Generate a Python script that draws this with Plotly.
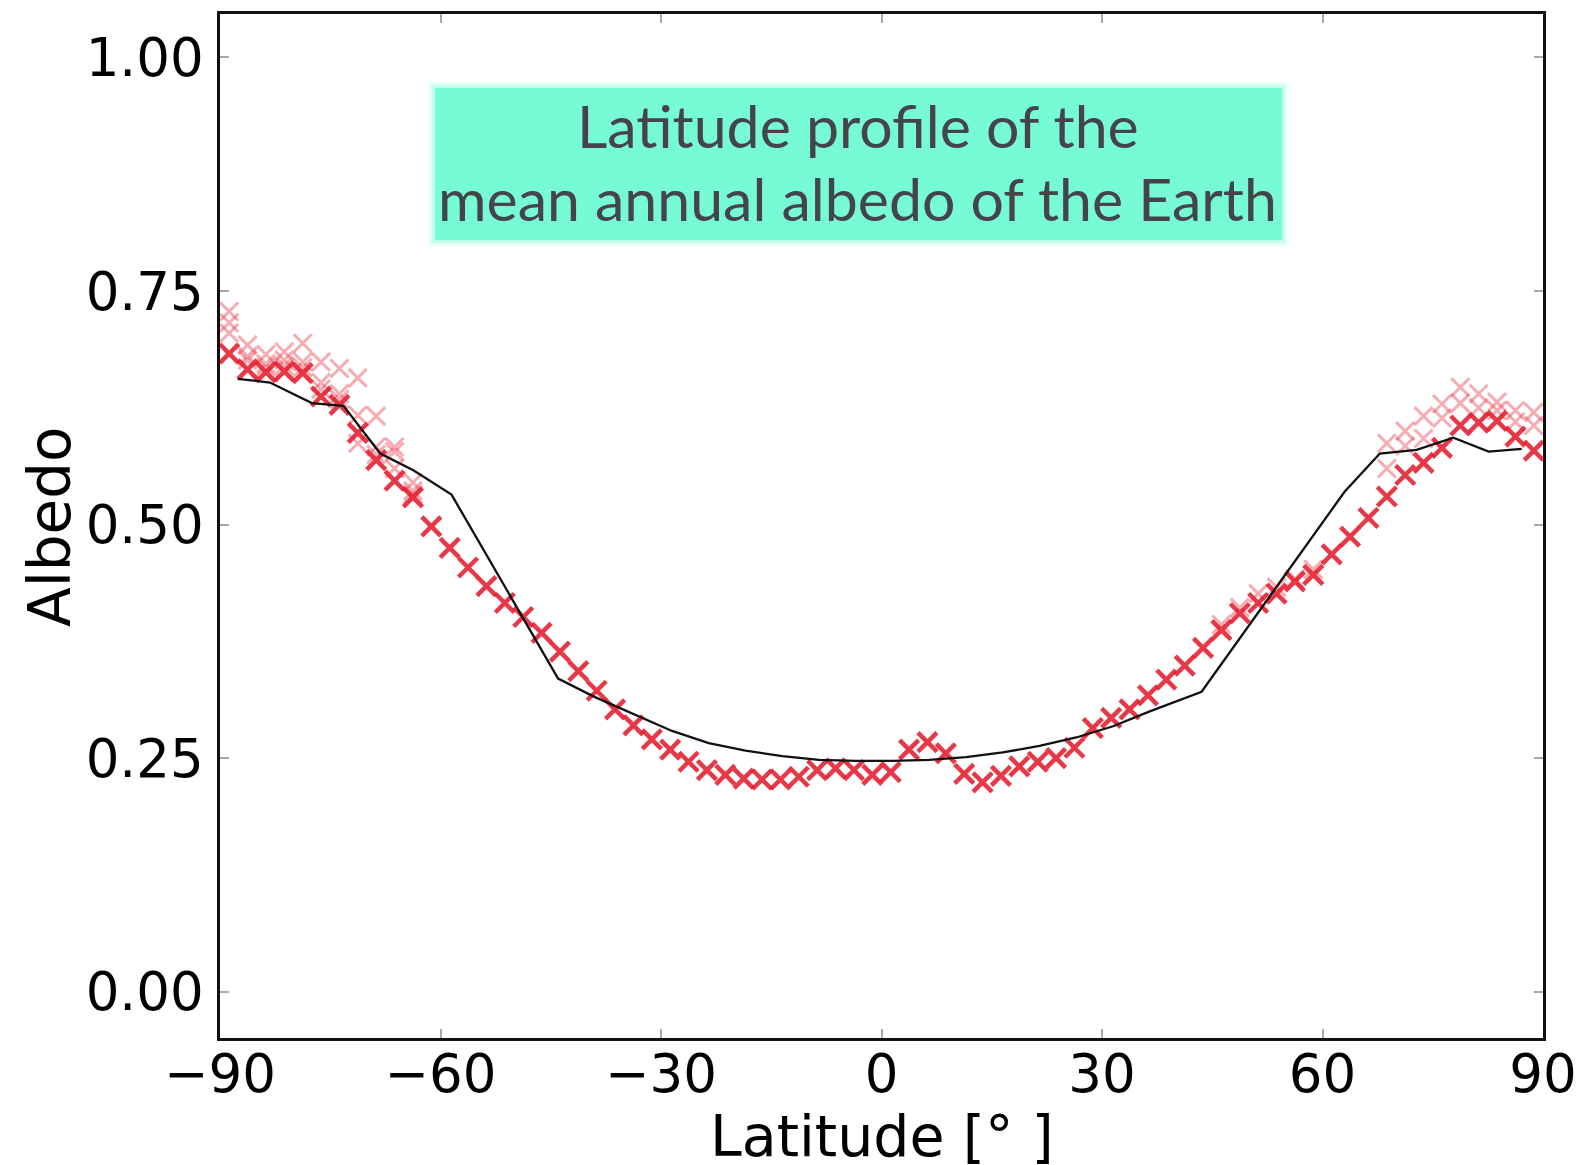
import plotly.graph_objects as go

# Latitude bins (degrees) of the observed zonal-mean albedo
lat = [-88.75, -86.25, -83.75, -81.25, -78.75, -76.25, -73.75, -71.25, -68.75, -66.25,
       -63.75, -61.25, -58.75, -56.25, -53.75, -51.25, -48.75, -46.25, -43.75, -41.25,
       -38.75, -36.25, -33.75, -31.25, -28.75, -26.25, -23.75, -21.25, -18.75, -16.25,
       -13.75, -11.25, -8.75, -6.25, -3.75, -1.25,
       1.25, 3.75, 6.25, 8.75, 11.25, 13.75, 16.25, 18.75, 21.25, 23.75,
       26.25, 28.75, 31.25, 33.75, 36.25, 38.75, 41.25, 43.75, 46.25, 48.75,
       51.25, 53.75, 56.25, 58.75, 61.25, 63.75, 66.25, 68.75, 71.25, 73.75,
       76.25, 78.75, 81.25, 83.75, 86.25, 88.75]

albedo_obs = [0.683, 0.666, 0.663, 0.664, 0.662, 0.637, 0.628, 0.598, 0.569, 0.547,
              0.529, 0.498, 0.475, 0.454, 0.434, 0.416, 0.401, 0.384, 0.364, 0.343,
              0.322, 0.302, 0.285, 0.270, 0.259, 0.246, 0.237, 0.232, 0.228, 0.227,
              0.227, 0.230, 0.237, 0.239, 0.237, 0.232,
              0.235, 0.259, 0.267, 0.255, 0.233, 0.224, 0.231, 0.241, 0.246, 0.250,
              0.261, 0.282, 0.293, 0.302, 0.317, 0.334, 0.349, 0.368, 0.387, 0.405,
              0.416, 0.426, 0.439, 0.446, 0.468, 0.487, 0.507, 0.530, 0.553, 0.566,
              0.582, 0.606, 0.609, 0.611, 0.594, 0.579]

# Additional yearly samples where the records spread apart
lat_south_extra = [-88.75, -86.25, -83.75, -81.25, -78.75, -76.25, -73.75, -71.25, -68.75, -66.25, -63.75]
alb_south_b = [0.728, 0.692, 0.682, 0.685, 0.694, 0.674, 0.667, 0.657, 0.616, 0.583, 0.545]
alb_south_c = [0.716, 0.680, 0.672, 0.676, 0.674, 0.652, 0.640, 0.617, 0.583, 0.578, 0.536]
alb_south_d = [0.705, 0.676, 0.668, 0.670, 0.668, 0.645, 0.634, 0.587, 0.575, 0.560, 0.532]

lat_north_mid = [46.25, 48.75, 51.25, 53.75, 56.25, 58.75]
alb_north_mid = [0.393, 0.411, 0.426, 0.433, 0.442, 0.452]

lat_north_extra = [68.75, 71.25, 73.75, 76.25, 78.75, 81.25, 83.75, 86.25, 88.75]
alb_north_b = [0.587, 0.600, 0.616, 0.629, 0.647, 0.640, 0.631, 0.622, 0.620]
alb_north_c = [0.560, 0.584, 0.592, 0.614, 0.630, 0.625, 0.622, 0.610, 0.606]

# Energy-balance model profile
model_lat = [-87.6, -83.2, -77.5, -73.2, -68.2, -63.7, -58.5, -44.0, -39.2, -34.0,
             -28.5, -23.5, -18.5, -13.5, -8.5, -3.5, 1.5, 6.5, 11.5, 16.5,
             21.5, 26.5, 31.5, 36.5, 43.55, 63.0, 67.8, 72.8, 77.8, 82.6, 87.1]
model_alb = [0.656, 0.652, 0.630, 0.627, 0.576, 0.558, 0.532, 0.335, 0.316, 0.298,
             0.279, 0.266, 0.258, 0.252, 0.248, 0.247, 0.247, 0.248, 0.251, 0.256,
             0.263, 0.272, 0.284, 0.300, 0.321, 0.535, 0.576, 0.580, 0.593, 0.578, 0.581]

x_ticks = [-90, -60, -30, 0, 30, 60, 90]
x_tick_text = ["\u221290", "\u221260", "\u221230", "0", "30", "60", "90"]
y_ticks = [0.0, 0.25, 0.5, 0.75, 1.0]
y_tick_text = ["0.00", "0.25", "0.50", "0.75", "1.00"]

LIGHT = "rgba(236, 70, 85, 0.45)"
DARK = "rgba(228, 28, 45, 0.88)"


def cross_trace(xs, ys, color, width, size):
    return go.Scatter(
        x=xs, y=ys, mode="markers", showlegend=False, hoverinfo="skip",
        marker=dict(symbol="x-thin", size=size, line=dict(width=width, color=color)),
    )


fig = go.Figure()
fig.add_trace(cross_trace(lat_south_extra, alb_south_b, LIGHT, 3, 18))
fig.add_trace(cross_trace(lat_south_extra, alb_south_c, LIGHT, 3, 18))
fig.add_trace(cross_trace(lat_south_extra, alb_south_d, LIGHT, 3, 18))
fig.add_trace(cross_trace(lat_north_mid, alb_north_mid, LIGHT, 3, 18))
fig.add_trace(cross_trace(lat_north_extra, alb_north_b, LIGHT, 3, 18))
fig.add_trace(cross_trace(lat_north_extra, alb_north_c, LIGHT, 3, 18))
fig.add_trace(cross_trace(lat, albedo_obs, DARK, 4.5, 19))
fig.add_trace(go.Scatter(x=model_lat, y=model_alb, mode="lines", showlegend=False,
                         hoverinfo="skip", line=dict(color="#111111", width=2.3)))

tick_font = dict(family="DejaVu Sans", size=53, color="#000000")
axis_common = dict(
    ticks="inside", ticklen=9, tickwidth=2, tickcolor="#a8a8a8",
    showline=True, linecolor="#111111", linewidth=2.5, mirror="allticks",
    showgrid=False, zeroline=False, tickfont=tick_font, automargin=False,
)
fig.update_xaxes(range=[-90, 90], tickvals=x_ticks, ticktext=x_tick_text,
                 ticklabelstandoff=-12, **axis_common)
fig.update_yaxes(range=[-0.0497, 1.0465], tickvals=y_ticks, ticktext=y_tick_text,
                 ticklabelstandoff=3, **axis_common)

# Title box with a soft glowing edge
box = dict(x0=0.1625, x1=0.8027, y0=0.7793, y1=0.9277)
for pad, alpha in [(0.0065, 0.12), (0.0035, 0.35), (0.0, 1.0)]:
    fig.add_shape(type="rect", xref="paper", yref="paper",
                  x0=box["x0"] - pad * 0.77, x1=box["x1"] + pad * 0.77,
                  y0=box["y0"] - pad, y1=box["y1"] + pad,
                  line=dict(width=0), fillcolor=f"rgba(118, 251, 213, {alpha})", layer="above")

title_font = dict(family="Lato", size=59, color="#454545")
fig.add_annotation(text="Latitude profile of the", xref="paper", yref="paper",
                   x=0.4822, y=0.8907, showarrow=False, font=title_font,
                   xanchor="center", yanchor="middle")
fig.add_annotation(text="mean annual albedo of the Earth", xref="paper", yref="paper",
                   x=0.4822, y=0.8199, showarrow=False, font=title_font,
                   xanchor="center", yanchor="middle")

# Axis titles
fig.add_annotation(text="Albedo", xref="paper", yref="paper", x=-0.1285, y=0.5,
                   textangle=-90, showarrow=False, xanchor="center", yanchor="middle",
                   font=dict(family="DejaVu Sans", size=58, color="#000000"))
fig.add_annotation(text="Latitude [\u00b0 ]", xref="paper", yref="paper",
                   x=0.5, y=-0.0957, showarrow=False, xanchor="center", yanchor="middle",
                   font=dict(family="DejaVu Sans", size=57, color="#000000"))

fig.update_layout(
    width=1580, height=1165,
    margin=dict(l=220, r=37, t=14, b=127),
    paper_bgcolor="white", plot_bgcolor="white",
)

fig.write_html("out.html")
